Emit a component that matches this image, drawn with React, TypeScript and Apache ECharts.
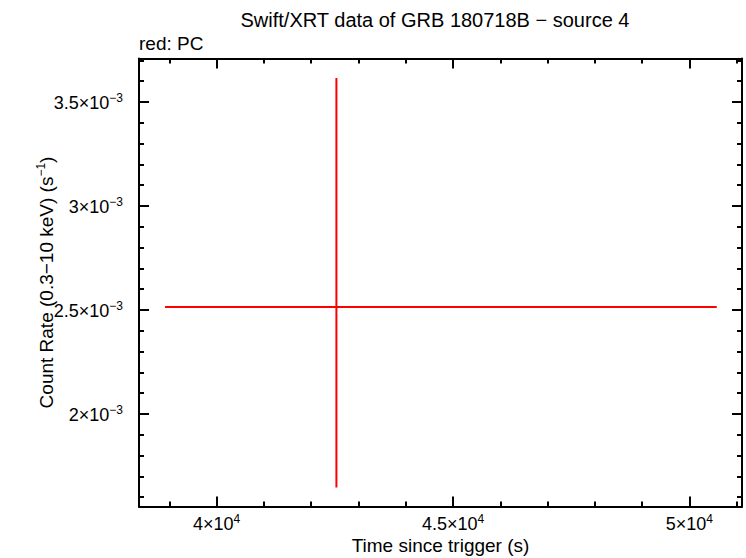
import { useEffect, useRef } from "react"
import * as echarts from "echarts"

// one PC-mode bin: centre, and the ends of its error bars
const timeMid = [42533]
const timeLow = [38907]
const timeHigh = [50580]
const rateMid = [2.514e-3]
const rateLow = [1.646e-3]
const rateHigh = [3.615e-3]

const xRange = [38356, 51115]
const yRange = [1.555e-3, 3.709e-3]
const xMajorTicks = [40000, 45000, 50000]
const xMinorTicks = [39000, 41000, 42000, 43000, 44000, 46000, 47000, 48000, 49000, 51000]
const yMajorTicks = [2.0e-3, 2.5e-3, 3.0e-3, 3.5e-3]
const yMinorTicks = [
  1.6e-3, 1.7e-3, 1.8e-3, 1.9e-3, 2.1e-3, 2.2e-3, 2.3e-3, 2.4e-3, 2.6e-3, 2.7e-3,
  2.8e-3, 2.9e-3, 3.1e-3, 3.2e-3, 3.3e-3, 3.4e-3, 3.6e-3, 3.7e-3,
]

const FONT = "'Liberation Sans', Arial, Helvetica, sans-serif"
const RED = "#ff0000"

const labelRich = {
  b: { fontFamily: FONT, fontSize: 18, color: "#000", lineHeight: 20, verticalAlign: "bottom" as const },
  s: { fontFamily: FONT, fontSize: 12, color: "#000", lineHeight: 12, verticalAlign: "top" as const },
}

const axisLineStyle = { show: true, lineStyle: { color: "#000", width: 2 } }

function xAxis(position: "bottom" | "top", ticks: number[], len: number, labels: boolean, line: boolean) {
  return {
    type: "value",
    position,
    min: xRange[0],
    max: xRange[1],
    axisLine: line ? axisLineStyle : { show: false },
    axisTick: { show: true, inside: true, length: len, customValues: ticks, lineStyle: { color: "#000", width: 2 } },
    axisLabel: labels
      ? {
          show: true,
          customValues: ticks,
          margin: 6,
          fontFamily: FONT,
          fontSize: 18,
          color: "#000",
          formatter: (v: number) => `{b|${+(v / 1e4).toFixed(1)}×10}{s|4}`,
          rich: labelRich,
        }
      : { show: false },
    splitLine: { show: false },
  }
}

function yAxis(position: "left" | "right", ticks: number[], len: number, labels: boolean, line: boolean) {
  return {
    type: "value",
    position,
    min: yRange[0],
    max: yRange[1],
    axisLine: line ? axisLineStyle : { show: false },
    axisTick: { show: true, inside: true, length: len, customValues: ticks, lineStyle: { color: "#000", width: 2 } },
    axisLabel: labels
      ? {
          show: true,
          customValues: ticks,
          margin: 16,
          fontFamily: FONT,
          fontSize: 18,
          color: "#000",
          formatter: (v: number) => `{b|${+(v * 1e3).toFixed(1)}×10}{s|−3}`,
          rich: labelRich,
        }
      : { show: false },
    splitLine: { show: false },
  }
}

export default function App() {
  const chartRef = useRef<HTMLDivElement>(null)

  useEffect(() => {
    if (!chartRef.current) return
    const chart = echarts.init(chartRef.current, undefined, { renderer: "svg" })

    const points = timeMid.map((t, i) => [t, rateMid[i], timeLow[i], timeHigh[i], rateLow[i], rateHigh[i]])

    chart.setOption({
      animation: false,
      backgroundColor: "#fff",
      grid: { left: 139, right: 4, top: 58.5, bottom: 51.5, containLabel: false, outerBoundsMode: "none" },
      graphic: [
        {
          type: "text",
          x: 435,
          y: 20,
          style: {
            text: "Swift/XRT data of GRB 180718B − source 4",
            font: `20px ${FONT}`,
            fill: "#000",
            align: "center",
            verticalAlign: "middle",
          },
        },
        {
          type: "text",
          x: 139,
          y: 43,
          style: { text: "red: PC", font: `19px ${FONT}`, fill: "#000", align: "left", verticalAlign: "middle" },
        },
      ],
      xAxis: [
        {
          ...xAxis("bottom", xMajorTicks, 10, true, true),
          name: "Time since trigger (s)",
          nameLocation: "middle",
          nameGap: 29,
          nameMoveOverlap: false,
          nameTextStyle: { fontFamily: FONT, fontSize: 19, color: "#000" },
        },
        xAxis("bottom", xMinorTicks, 5, false, false),
        xAxis("top", xMajorTicks, 10, false, true),
        xAxis("top", xMinorTicks, 5, false, false),
      ],
      yAxis: [
        {
          ...yAxis("left", yMajorTicks, 10, true, true),
          name: "{n|Count Rate (0.3−10 keV) (s}{s|−1}{n|)}",
          nameLocation: "middle",
          nameGap: 83,
          nameRotate: 90,
          nameMoveOverlap: false,
          nameTextStyle: {
            fontFamily: FONT,
            fontSize: 19,
            color: "#000",
            rich: {
              n: { fontFamily: FONT, fontSize: 19, color: "#000", lineHeight: 21, verticalAlign: "bottom" },
              s: { fontFamily: FONT, fontSize: 12, color: "#000", lineHeight: 12, verticalAlign: "top" },
            },
          },
        },
        yAxis("left", yMinorTicks, 5, false, false),
        yAxis("right", yMajorTicks, 10, false, true),
        yAxis("right", yMinorTicks, 5, false, false),
      ],
      series: [
        {
          type: "custom",
          xAxisIndex: 0,
          yAxisIndex: 0,
          data: points,
          encode: { x: [0, 2, 3], y: [1, 4, 5] },
          renderItem: (_params: any, api: any) => {
            const left = api.coord([api.value(2), api.value(1)])
            const right = api.coord([api.value(3), api.value(1)])
            const bottom = api.coord([api.value(0), api.value(4)])
            const top = api.coord([api.value(0), api.value(5)])
            return {
              type: "group",
              children: [
                {
                  type: "line",
                  shape: { x1: left[0], y1: left[1], x2: right[0], y2: right[1] },
                  style: { stroke: RED, lineWidth: 2 },
                },
                {
                  type: "line",
                  shape: { x1: bottom[0], y1: bottom[1], x2: top[0], y2: top[1] },
                  style: { stroke: RED, lineWidth: 2 },
                },
              ],
            }
          },
        },
      ],
    })

    return () => {
      chart.dispose()
    }
  }, [])

  return (
    <div
      ref={chartRef}
      style={{ position: "absolute", left: 0, top: 0, width: 746, height: 558, background: "#fff" }}
    />
  )
}
